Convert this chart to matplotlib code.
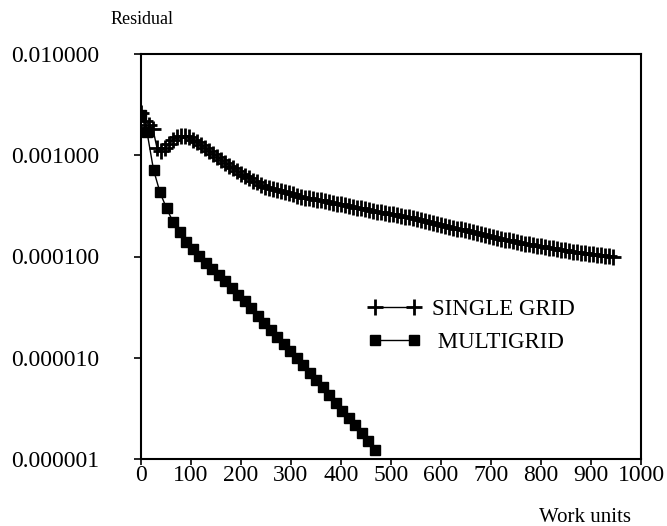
import matplotlib.pyplot as plt

plt.rcParams['font.family'] = ['Liberation Serif', 'DejaVu Serif']

# single grid: residual read every ~8 work units
single_x = [0, 8, 16, 24, 32, 40, 48, 56, 64, 72, 80, 88, 96, 104, 112, 120,
            128, 136, 144, 152, 160, 168, 176, 184, 192, 200, 208, 216, 224,
            232, 240, 248, 256, 264, 272, 280, 288, 296, 304, 312, 320, 328,
            336, 344, 352, 360, 368, 376, 384, 392, 400, 408, 416, 424, 432,
            440, 448, 456, 464, 472, 480, 488, 496, 504, 512, 520, 528, 536,
            544, 552, 560, 568, 576, 584, 592, 600, 608, 616, 624, 632, 640,
            648, 656, 664, 672, 680, 688, 696, 704, 712, 720, 728, 736, 744,
            752, 760, 768, 776, 784, 792, 800, 808, 816, 824, 832, 840, 848,
            856, 864, 872, 880, 888, 896, 904, 912, 920, 928, 936, 944]
single_res = [2.6e-3, 2.2e-3, 2.0e-3, 1.8e-3, 1.18e-3, 1.10e-3, 1.18e-3, 1.28e-3,
              1.40e-3, 1.50e-3, 1.55e-3, 1.55e-3, 1.50e-3, 1.42e-3, 1.34e-3,
              1.26e-3, 1.18e-3, 1.10e-3, 1.03e-3, 9.7e-4, 9.0e-4, 8.4e-4,
              7.9e-4, 7.4e-4, 7.0e-4, 6.6e-4, 6.2e-4, 5.9e-4, 5.6e-4, 5.4e-4,
              5.1e-4, 4.9e-4, 4.8e-4, 4.6e-4, 4.5e-4, 4.4e-4, 4.3e-4, 4.2e-4,
              4.1e-4, 4.0e-4, 3.9e-4, 3.8e-4, 3.75e-4, 3.7e-4, 3.65e-4, 3.6e-4,
              3.52e-4, 3.45e-4, 3.4e-4, 3.33e-4, 3.27e-4, 3.21e-4, 3.16e-4,
              3.1e-4, 3.04e-4, 2.98e-4, 2.93e-4, 2.88e-4, 2.83e-4, 2.78e-4,
              2.74e-4, 2.7e-4, 2.65e-4, 2.6e-4, 2.56e-4, 2.52e-4, 2.48e-4,
              2.44e-4, 2.4e-4, 2.36e-4, 2.31e-4, 2.26e-4, 2.21e-4, 2.16e-4,
              2.11e-4, 2.06e-4, 2.01e-4, 1.97e-4, 1.93e-4, 1.89e-4, 1.85e-4,
              1.81e-4, 1.77e-4, 1.73e-4, 1.69e-4, 1.65e-4, 1.62e-4, 1.59e-4,
              1.56e-4, 1.53e-4, 1.5e-4, 1.47e-4, 1.44e-4, 1.41e-4, 1.38e-4,
              1.36e-4, 1.34e-4, 1.32e-4, 1.30e-4, 1.28e-4, 1.26e-4, 1.24e-4,
              1.22e-4, 1.20e-4, 1.18e-4, 1.16e-4, 1.15e-4, 1.13e-4, 1.12e-4,
              1.10e-4, 1.09e-4, 1.08e-4, 1.06e-4, 1.05e-4, 1.04e-4, 1.03e-4,
              1.02e-4, 1.01e-4, 1.0e-4]

# multigrid
multi_x = [0, 12, 25, 38, 51, 64, 77, 90, 103, 116, 129, 142, 155, 168, 181,
           194, 207, 220, 233, 246, 259, 272, 285, 298, 311, 324, 337, 350,
           363, 376, 389, 402, 415, 428, 441, 454, 467]
multi_res = [2.5e-3, 1.7e-3, 7.2e-4, 4.3e-4, 3.0e-4, 2.2e-4, 1.75e-4, 1.4e-4,
             1.18e-4, 1.01e-4, 8.7e-5, 7.5e-5, 6.6e-5, 5.7e-5, 4.9e-5, 4.2e-5,
             3.6e-5, 3.1e-5, 2.6e-5, 2.2e-5, 1.9e-5, 1.6e-5, 1.37e-5, 1.17e-5,
             9.9e-6, 8.4e-6, 7.1e-6, 6.0e-6, 5.1e-6, 4.3e-6, 3.6e-6, 3.0e-6,
             2.55e-6, 2.15e-6, 1.8e-6, 1.5e-6, 1.22e-6]

yticks = [1e-6, 1e-5, 1e-4, 1e-3, 1e-2]
ytick_labels = ['0.000001', '0.000010', '0.000100', '0.001000', '0.010000']
xticks = [0, 100, 200, 300, 400, 500, 600, 700, 800, 900, 1000]

fig = plt.figure(figsize=(6.67, 5.26), dpi=100)
ax = fig.add_axes([141 / 667, 1 - 459 / 526, 500 / 667, 405 / 526])

ax.plot(single_x, single_res, color='black', lw=1.0, marker='+',
        markersize=11, markeredgewidth=2.0, label='SINGLE GRID')
ax.plot(multi_x, multi_res, color='black', lw=1.0, marker='s',
        markersize=6.5, label=' MULTIGRID')

ax.set_yscale('log')
ax.set_xlim(0, 1000)
ax.set_ylim(1e-6, 1e-2)
ax.set_yticks(yticks)
ax.set_yticklabels(ytick_labels)
ax.minorticks_off()
ax.set_xticks(xticks)
ax.tick_params(axis='y', direction='out', length=5, width=1.2, pad=25,
               labelsize=17)
ax.tick_params(axis='x', direction='out', length=4, width=1.2, pad=0,
               labelsize=17)
for sp in ax.spines.values():
    sp.set_linewidth(1.5)

fig.text(142 / 667, 1 - 20 / 526, 'Residual', ha='center', va='center',
         fontsize=13)
fig.text(585 / 667, 1 - 517 / 526, 'Work units', ha='center', va='center',
         fontsize=15)

ax.legend(loc='upper left', bbox_to_anchor=(368 / 667, 1 - 299 / 526),
          bbox_transform=fig.transFigure, frameon=False, fontsize=16.5,
          numpoints=2, handlelength=2.3, handletextpad=0.5,
          labelspacing=0.52, borderpad=0, borderaxespad=0)

fig.savefig('out.png', dpi=100)
